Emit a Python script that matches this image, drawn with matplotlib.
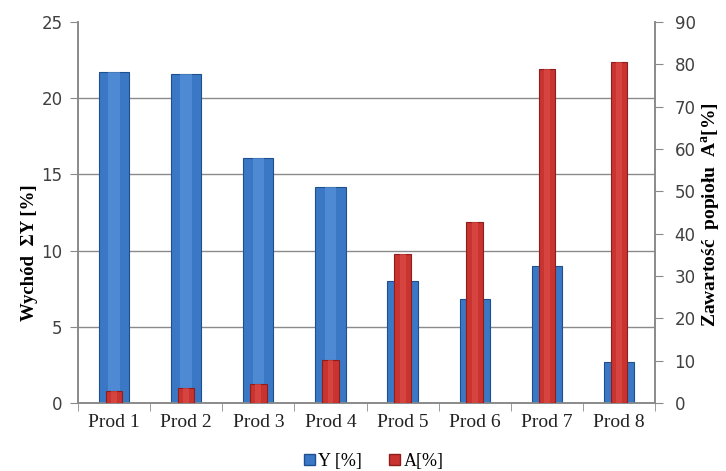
import matplotlib.pyplot as plt
import numpy as np

# dane z wykresu
products = ['Prod 1', 'Prod 2', 'Prod 3', 'Prod 4', 'Prod 5', 'Prod 6', 'Prod 7', 'Prod 8']
y_vals = [21.7, 21.6, 16.1, 14.2, 8.0, 6.8, 9.0, 2.7]
a_vals = [2.9, 3.6, 4.4, 10.2, 35.2, 42.8, 78.8, 80.6]

blue = '#3a78c6'
blue_edge = '#1f4f8e'
red = '#c93330'
red_edge = '#8e1e1c'
grey = '#8a8a8a'
serif = 'Liberation Serif'

fig = plt.figure(figsize=(7.26, 4.71), dpi=100)
ax = fig.add_axes([0.1074, 0.1444, 0.795, 0.809])
ax2 = ax.twinx()

x = np.arange(len(products))

ax.bar(x, y_vals, width=0.42, color=blue, edgecolor=blue_edge, linewidth=0.8, zorder=3)
ax.bar(x, y_vals, width=0.16, color='#5d97dc', linewidth=0, zorder=3.5, alpha=0.6)
ax2.bar(x, a_vals, width=0.23, color=red, edgecolor=red_edge, linewidth=0.8, zorder=3)
ax2.bar(x, a_vals, width=0.08, color='#e0504a', linewidth=0, zorder=3.5, alpha=0.6)

ax.set_ylim(0, 25)
ax.set_yticks(range(0, 26, 5))
ax2.set_ylim(0, 90)
ax2.set_yticks(range(0, 91, 10))
ax.set_xlim(-0.5, len(products) - 0.5)

# siatka tylko dla lewej osi
for v in range(5, 25, 5):
    ax.axhline(v, color=grey, linewidth=1, zorder=1)

ax.set_xticks(x)
ax.set_xticklabels(products, fontfamily=serif, fontsize=14, color='#222222')
ax.set_xticks(np.arange(-0.5, len(products), 1), minor=True)
ax.tick_params(axis='x', which='major', length=0, pad=8)
ax.tick_params(axis='x', which='minor', length=6, color=grey)

ax.tick_params(axis='y', length=6, color=grey, labelsize=12, labelcolor='#404040', pad=5)
ax2.tick_params(axis='y', length=6, color=grey, labelsize=12, labelcolor='#404040', pad=8)

for a in (ax, ax2):
    a.spines['top'].set_visible(False)
    for s in ('left', 'right', 'bottom'):
        a.spines[s].set_color(grey)
        a.spines[s].set_linewidth(1.2)

# opisy osi
fig.text(30 / 726, 1 - 253 / 471, 'Wychód  ΣY [%]', fontfamily=serif, fontweight='bold',
         fontsize=13.5, rotation=90, ha='center', va='center')
fig.text(711 / 726, 1 - 215 / 471, 'Zawartość  popiołu  A$^{\\mathregular{a}}$[%]',
         fontfamily=serif, fontweight='bold', fontsize=14, rotation=90,
         ha='center', va='center')

handles = [plt.Rectangle((0, 0), 1, 1, color=blue, ec=blue_edge),
           plt.Rectangle((0, 0), 1, 1, color=red, ec=red_edge)]
fig.legend(handles, ['Y [%]', 'A[%]'], loc='center', bbox_to_anchor=(0.515, 0.02),
           ncol=2, frameon=False, prop={'family': serif, 'size': 13},
           handlelength=0.6, handleheight=0.6, handletextpad=0.2, columnspacing=1.5)

fig.savefig('out.png', dpi=100)
